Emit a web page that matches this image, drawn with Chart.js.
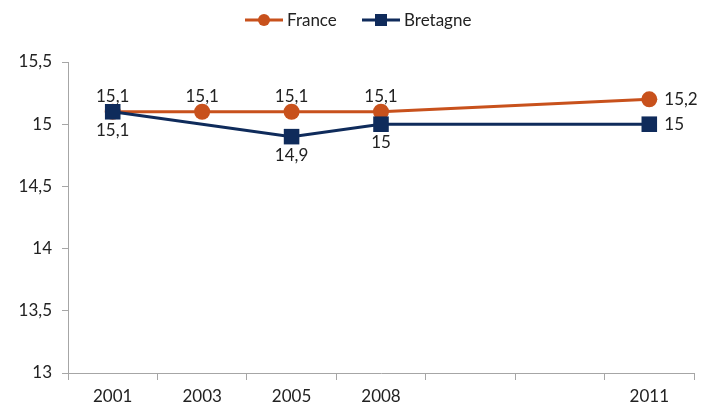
<!DOCTYPE html>
<html>
<head>
<meta charset="utf-8">
<script src="https://cdn.jsdelivr.net/npm/chart.js@4/dist/chart.umd.min.js"></script>
<style>
html,body{margin:0;padding:0;background:#fff;}
#wrap{width:706px;height:406px;}
</style>
</head>
<body>
<div id="wrap"><canvas id="c" width="706" height="406"></canvas></div>
<script>
const categories = ['2001', '2003', '2005', '2008', '', '', '2011'];
const france = [15.1, 15.1, 15.1, 15.1, null, null, 15.2];
const bretagne = [15.1, null, 14.9, 15.0, null, null, 15.0];
const yTicks = [13, 13.5, 14, 14.5, 15, 15.5];
// label placement: 'a' above, 'b' below, 'r' right
const francePos = ['a', 'a', 'a', 'a', null, null, 'r'];
const bretagnePos = ['b', null, 'b', 'b', null, null, 'r'];

const ORANGE = '#C8511C';
const NAVY = '#0F2B5B';
const FONT = 'Lato, "Open Sans", sans-serif';
const FS = 17;
const fmt = v => String(v).replace('.', ',');

const labelsPlugin = {
  id: 'pointLabels',
  afterDatasetsDraw(chart) {
    const ctx = chart.ctx;
    ctx.save();
    ctx.font = FS + 'px ' + FONT;
    ctx.fillStyle = '#222';
    const posArr = [francePos, bretagnePos];
    chart.data.datasets.forEach((ds, di) => {
      const meta = chart.getDatasetMeta(di);
      meta.data.forEach((pt, i) => {
        const v = ds.data[i];
        const p = posArr[di][i];
        if (v == null || !p) return;
        const t = fmt(v);
        if (p === 'a') { ctx.textAlign = 'center'; ctx.textBaseline = 'alphabetic'; ctx.fillText(t, pt.x, pt.y - 10); }
        else if (p === 'b') { ctx.textAlign = 'center'; ctx.textBaseline = 'top'; ctx.fillText(t, pt.x, pt.y + 10); }
        else { ctx.textAlign = 'left'; ctx.textBaseline = 'middle'; ctx.fillText(t, pt.x + 15, pt.y); }
      });
    });
    ctx.restore();
  }
};

const legendPlugin = {
  id: 'customLegend',
  afterDraw(chart) {
    const ctx = chart.ctx;
    ctx.save();
    ctx.font = FS + 'px ' + FONT;
    ctx.textBaseline = 'middle';
    ctx.textAlign = 'left';
    const y = 20;
    const items = [
      { x: 245, label: 'France', color: ORANGE, style: 'circle' },
      { x: 362, label: 'Bretagne', color: NAVY, style: 'rect' }
    ];
    items.forEach(it => {
      ctx.strokeStyle = it.color; ctx.lineWidth = 3;
      ctx.beginPath(); ctx.moveTo(it.x, y); ctx.lineTo(it.x + 38, y); ctx.stroke();
      ctx.fillStyle = it.color;
      if (it.style === 'circle') { ctx.beginPath(); ctx.arc(it.x + 19, y, 6, 0, Math.PI * 2); ctx.fill(); }
      else { ctx.fillRect(it.x + 13, y - 6, 12, 12); }
      ctx.fillStyle = '#222';
      ctx.fillText(it.label, it.x + 42, y + 1);
    });
    ctx.restore();
  }
};

new Chart(document.getElementById('c'), {
  type: 'line',
  data: {
    labels: categories,
    datasets: [
      { label: 'France', data: france, borderColor: ORANGE, backgroundColor: ORANGE, borderWidth: 3, order: 1,
        pointStyle: 'circle', pointRadius: 8, pointHoverRadius: 8, pointBorderWidth: 0, spanGaps: true, tension: 0 },
      { label: 'Bretagne', data: bretagne, borderColor: NAVY, backgroundColor: NAVY, borderWidth: 3, order: 0,
        pointStyle: 'rect', pointRadius: 11, pointHoverRadius: 11, pointBorderWidth: 0, spanGaps: true, tension: 0 }
    ]
  },
  options: {
    responsive: false,
    animation: false,
    devicePixelRatio: 1,
    layout: { padding: { top: 62, right: 12, bottom: 0, left: 0 } },
    plugins: { legend: { display: false }, tooltip: { enabled: false } },
    scales: {
      x: {
        offset: true,
        grid: { offset: true, drawOnChartArea: false, drawTicks: true, tickLength: 7, color: '#a6a6a6' },
        border: { display: true, color: '#a6a6a6', width: 1 },
        ticks: { color: '#222', font: { size: FS, family: FONT }, padding: 6, maxRotation: 0, autoSkip: false },
        afterFit(s) { s.height = 33; }
      },
      y: {
        min: 13, max: 15.5,
        afterBuildTicks(s) { s.ticks = yTicks.map(v => ({ value: v })); },
        grid: { drawOnChartArea: false, drawTicks: true, tickLength: 6, color: '#a6a6a6' },
        border: { display: true, color: '#a6a6a6', width: 1 },
        ticks: { color: '#222', font: { size: FS, family: FONT }, padding: 10, callback: v => fmt(v) },
        afterFit(s) { s.width = 68; }
      }
    }
  },
  plugins: [labelsPlugin, legendPlugin]
});
</script>
</body>
</html>
